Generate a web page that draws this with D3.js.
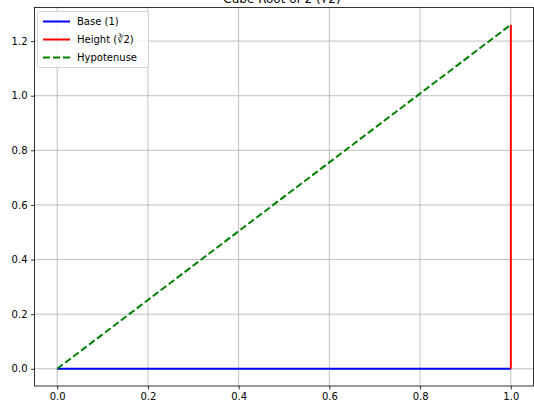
<!DOCTYPE html>
<html><head><meta charset="utf-8">
<script src="https://cdn.jsdelivr.net/npm/d3@7"></script>
<style>body{margin:0;background:#fff}svg{display:block;font-family:"DejaVu Sans",sans-serif}</style>
</head><body>
<svg id="c" width="534" height="405"></svg>
<script>
const cbrt2 = 1.2599;
const seriesNames = ["Base (1)", "Height (\u221B2)", "Hypotenuse"];
const seriesColors = ["#0000ff", "#ff0000", "#008000"];
const baseX = [0, 1], baseY = [0, 0];
const heightX = [1, 1], heightY = [0, cbrt2];
const hypX = [0, 1], hypY = [0, cbrt2];
const xTicks = [0, 0.2, 0.4, 0.6, 0.8, 1.0];
const yTicks = [0, 0.2, 0.4, 0.6, 0.8, 1.0, 1.2];
const title = "Cube Root of 2 (\u221B2)";

const svg = d3.select("#c");
const L = 34.5, R = 533.5, T = 7.5, B = 386;
const x = d3.scaleLinear().domain([-0.05, 1.05]).range([L, R]);
const y = d3.scaleLinear().domain([-0.063, 1.323]).range([B, T]);

svg.append("text").attr("x", 282).attr("y", 2.5).attr("text-anchor","middle")
  .attr("font-size", 12).text(title);

const g = svg.append("g");
g.selectAll(".gx").data(xTicks).join("line").attr("x1", d=>x(d)).attr("x2", d=>x(d))
  .attr("y1", T).attr("y2", B).attr("stroke", "#b0b0b0").attr("stroke-width", 0.8);
g.selectAll(".gy").data(yTicks).join("line").attr("y1", d=>y(d)).attr("y2", d=>y(d))
  .attr("x1", L).attr("x2", R).attr("stroke", "#b0b0b0").attr("stroke-width", 0.8);

const xa = svg.append("g").attr("transform", `translate(0,${B})`)
  .call(d3.axisBottom(x).tickValues(xTicks).tickFormat(d3.format(".1f")).tickSize(3.5).tickPadding(3.5));
const ya = svg.append("g").attr("transform", `translate(${L},0)`)
  .call(d3.axisLeft(y).tickValues(yTicks).tickFormat(d3.format(".1f")).tickSize(3.5).tickPadding(3.5));
[xa, ya].forEach(a => { a.select(".domain").remove(); a.selectAll("text").attr("font-size", 10).attr("fill","#000").attr("font-family","DejaVu Sans"); a.selectAll("line").attr("stroke","#000").attr("stroke-width",0.8); });

const line = d3.line().x(d=>x(d[0])).y(d=>y(d[1]));
const data = [
  {xs: baseX, ys: baseY, c: 0, dash: null},
  {xs: heightX, ys: heightY, c: 1, dash: null},
  {xs: hypX, ys: hypY, c: 2, dash: "7,3"}
];
data.forEach(s => {
  svg.append("path").attr("d", line(s.xs.map((v,i)=>[v, s.ys[i]])))
    .attr("fill","none").attr("stroke", seriesColors[s.c]).attr("stroke-width", 2)
    .attr("stroke-dasharray", s.dash);
});

svg.append("rect").attr("x", L).attr("y", T).attr("width", R-L).attr("height", B-T)
  .attr("fill","none").attr("stroke","#000").attr("stroke-width",0.8);

// legend
const lg = svg.append("g");
lg.append("rect").attr("x", 37.5).attr("y", 11.5).attr("width", 111).attr("height", 56).attr("rx", 2)
  .attr("fill", "#fff").attr("fill-opacity", 0.8).attr("stroke", "#ccc").attr("stroke-width", 0.8);
seriesNames.forEach((n,i) => {
  const yy = 21.5 + i*18;
  lg.append("line").attr("x1", 43).attr("x2", 70).attr("y1", yy).attr("y2", yy)
    .attr("stroke", seriesColors[i]).attr("stroke-width", 2).attr("stroke-dasharray", i===2 ? "7,3" : null);
  lg.append("text").attr("x", 77).attr("y", yy + 3.5).attr("font-size", 10).text(n);
});
</script>
</body></html>
